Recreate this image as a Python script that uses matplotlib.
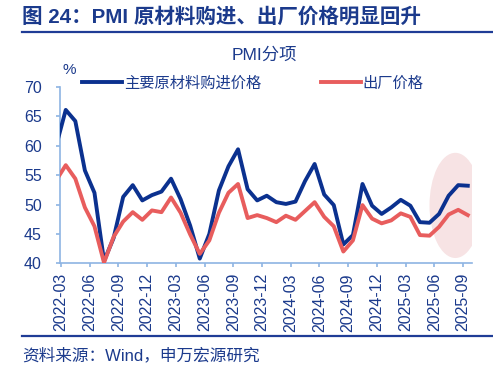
import matplotlib
matplotlib.use("Agg")
import matplotlib.pyplot as plt
from matplotlib.patches import Ellipse
from matplotlib.lines import Line2D

plt.rcParams['font.family'] = ['Liberation Sans', 'Noto Sans CJK SC', 'DejaVu Sans']

# monthly data, 2022-02 .. 2025-09
months = [f"{y}-{m:02d}" for y in range(2022, 2026) for m in range(1, 13)]
months = months[1:months.index("2025-09") + 1]

purchase = [60.0, 66.1, 64.2, 55.8, 52.0, 40.4, 44.3, 51.3, 53.3, 50.7, 51.6,
            52.2, 54.4, 50.9, 46.4, 40.8, 45.0, 52.4, 56.5, 59.4, 52.6, 50.7, 51.5,
            50.4, 50.1, 50.5, 54.0, 56.9, 51.7, 49.9, 43.2, 44.8, 53.5, 49.8, 48.4,
            49.5, 50.8, 49.8, 47.0, 46.9, 48.4, 51.5, 53.3, 53.2]
output = [54.1, 56.7, 54.4, 49.5, 46.3, 40.1, 44.5, 47.1, 48.7, 47.4, 49.0,
          48.7, 51.2, 48.6, 44.9, 41.6, 43.9, 48.6, 52.0, 53.5, 47.7, 48.2, 47.7,
          47.0, 48.1, 47.4, 48.9, 50.4, 47.9, 46.3, 42.0, 43.9, 49.9, 47.6, 46.8,
          47.3, 48.5, 47.9, 44.8, 44.7, 46.2, 48.3, 49.1, 48.2]

series_names = ["主要原材料购进价格", "出厂价格"]
blue = '#0b318f'
red = '#e85d5d'
txt = '#1b3a8c'
axis_c = '#8eb4e3'

# points sit mid-month, ticks at month start; 2022-03 -> 0
x = [i - 1 + 0.5 for i in range(len(months))]
tick_idx = list(range(1, len(months), 3))
tick_pos = [i - 1 for i in tick_idx]
tick_lab = [months[i] for i in tick_idx]

fig = plt.figure(figsize=(4.93, 3.66), dpi=100)
ax = fig.add_axes([60 / 493, 1 - 263.3 / 366, 412 / 493, (263.3 - 87) / 366])

# highlight of the latest months
ax.add_patch(Ellipse((41.2, 49.85), 5.4, 17.9, facecolor='#f7e3e4',
                     edgecolor='none', zorder=1))
ax.plot(x, purchase, color=blue, lw=2.8, zorder=3, label=series_names[0])
ax.plot(x, output, color=red, lw=2.8, zorder=4, label=series_names[1])

ax.set_xlim(-0.1, 42.94)
ax.set_ylim(40, 70)
ax.set_yticks(range(40, 71, 5))
ax.set_xticks(tick_pos)
ax.set_xticklabels(tick_lab, rotation=90)

for s in ['top', 'right']:
    ax.spines[s].set_visible(False)
for s in ['left', 'bottom']:
    ax.spines[s].set_color(axis_c)
    ax.spines[s].set_linewidth(1.2)
ax.tick_params(axis='both', colors=axis_c, length=3, width=1.2,
               labelcolor=txt, labelsize=11.5)
ax.tick_params(axis='y', pad=10)
ax.tick_params(axis='x', pad=4)

handles = [Line2D([], [], color=blue, lw=2.8), Line2D([], [], color=red, lw=2.8)]
leg = fig.legend(handles, series_names, loc='center left',
                 bbox_to_anchor=(82 / 493, 1 - 83 / 366), ncol=2, frameon=False,
                 borderpad=0, borderaxespad=0, handlelength=2.6,
                 handletextpad=0.15, columnspacing=3.9,
                 prop={'family': ['Noto Sans CJK SC'], 'size': 11})
for t in leg.get_texts():
    t.set_color(txt)

fig.text(69 / 493, 1 - 70 / 366, '%', color=txt, fontsize=11,
         ha='center', va='center')
fig.text(264 / 493, 1 - 55 / 366, 'PMI分项', color=txt, fontsize=12.5,
         ha='center', va='center')

fig.text(22 / 493, 1 - 17 / 366, '图 24：PMI 原材料购进、出厂价格明显回升',
         color=txt, fontsize=14.8, fontweight='bold', ha='left', va='center')
fig.add_artist(Line2D([22 / 493, 1], [1 - 32 / 366] * 2, color='#1f3c96', lw=1.6))
fig.add_artist(Line2D([22 / 493, 1], [1 - 336 / 366] * 2, color='#1f3c96', lw=1.6))
fig.text(22 / 493, 1 - 355 / 366, '资料来源：Wind，申万宏源研究', color=txt,
         fontsize=12, ha='left', va='center')

fig.savefig('out.png', dpi=100)
